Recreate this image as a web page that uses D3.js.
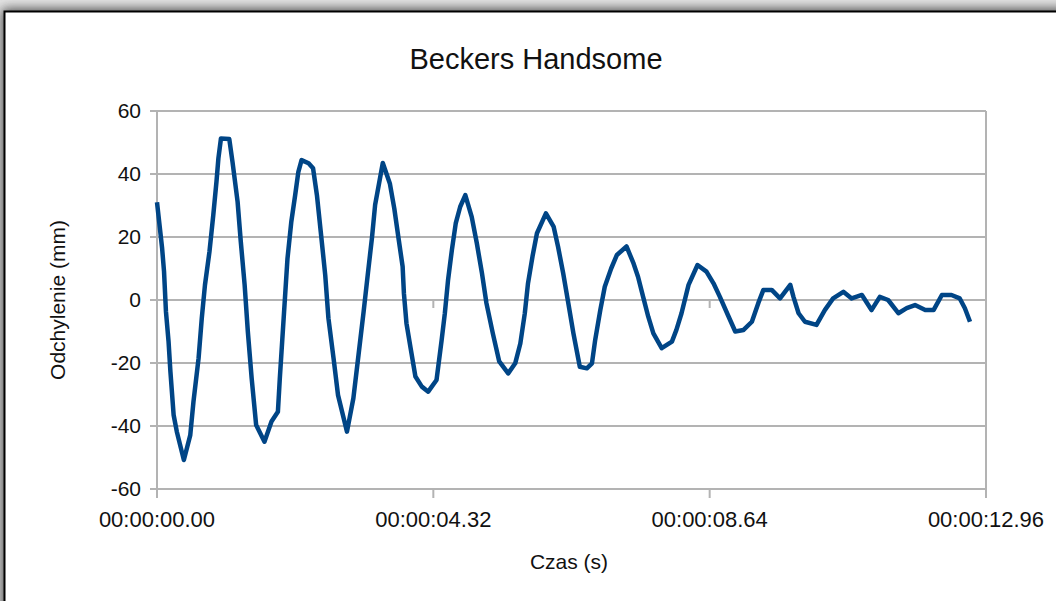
<!DOCTYPE html>
<html>
<head>
<meta charset="utf-8">
<script src="https://cdn.jsdelivr.net/npm/d3@7"></script>
<style>
  html, body { margin: 0; padding: 0; background: #e6e6e6; }
  svg { display: block; font-family: "Liberation Sans", Arial, sans-serif; }
</style>
</head>
<body>
<div id="chart"></div>
<script>
// czas w sekundach i odchylenie w mm
const times = [
  0.00, 0.08, 0.11, 0.14, 0.18, 0.21, 0.26, 0.31, 0.42, 0.52, 0.57, 0.65, 0.70, 0.75, 0.82, 0.88,
  0.93, 0.96, 1.00, 1.13, 1.18, 1.26, 1.31, 1.37, 1.42, 1.48, 1.55, 1.68, 1.79, 1.89, 1.92, 1.96,
  2.00, 2.04, 2.10, 2.16, 2.21, 2.26, 2.37, 2.44, 2.50, 2.56, 2.63, 2.68, 2.76, 2.83, 2.97, 3.07,
  3.15, 3.23, 3.30, 3.36, 3.41, 3.53, 3.64, 3.71, 3.78, 3.84, 3.86, 3.90, 3.97, 4.04, 4.14, 4.24,
  4.37, 4.45, 4.50, 4.55, 4.61, 4.67, 4.74, 4.82, 4.92, 5.00, 5.08, 5.15, 5.25, 5.35, 5.49, 5.60,
  5.68, 5.75, 5.80, 5.87, 5.94, 6.08, 6.20, 6.27, 6.35, 6.43, 6.51, 6.61, 6.72, 6.80, 6.85, 6.93,
  7.00, 7.10, 7.19, 7.34, 7.45, 7.52, 7.60, 7.68, 7.76, 7.89, 8.05, 8.12, 8.20, 8.31, 8.45, 8.59,
  8.70, 8.80, 8.93, 9.04, 9.17, 9.30, 9.40, 9.48, 9.61, 9.74, 9.90, 9.95, 10.03, 10.13, 10.31, 10.44,
  10.57, 10.73, 10.86, 11.02, 11.17, 11.30, 11.43, 11.59, 11.72, 11.85, 12.01, 12.14, 12.27, 12.42, 12.55, 12.63,
  12.71
];
const deflection = [
  31, 16.4, 9, -3.7, -13, -22.8, -36.5, -41.8, -50.8, -42.9, -32.3, -18.5, -5.8, 4.8, 15.3, 27,
  37.6, 45, 51.3, 51.1, 43.9, 31.2, 18.5, 4.8, -10, -24.9, -39.7, -45, -38.6, -35.5, -24.9, -12.2,
  0.5, 13.2, 24.9, 33.3, 40.7, 44.4, 43.4, 41.8, 33.3, 21.7, 7.9, -5.8, -18.5, -30.2, -41.8, -31.2,
  -17.5, -3.7, 9, 19.6, 30.2, 43.5, 37, 29, 19, 10.6, 2.1, -7.4, -15.9, -24.3, -27.5, -29.1,
  -25.4, -12.7, -4.2, 6.3, 15.9, 24.3, 29.6, 33.3, 26.4, 18, 8.5, -1, -10.6, -19.5, -23.3, -20.1,
  -13.8, -4.2, 5.3, 13.8, 21.2, 27.5, 23.3, 16.9, 8.5, -1, -10.6, -21.2, -21.7, -20.1, -12.7, -3.2,
  4.2, 10, 14.3, 17, 11.6, 7.4, 1, -5.3, -10.6, -15.3, -13.2, -9.5, -4.2, 4.8, 11.1, 9,
  5.3, 1, -5, -10, -9.5, -6.9, -1, 3.2, 3.2, 0.5, 4.8, 1, -4.2, -6.9, -7.9, -3.2,
  0.5, 2.6, 0.5, 1.6, -3.2, 1, 0, -4.2, -2.6, -1.6, -3.2, -3.2, 1.6, 1.6, 0.5, -2.6,
  -6.9
];
const xTicks = [0, 4.32, 8.64, 12.96];
const yTicks = [-60, -40, -20, 0, 20, 40, 60];

const data = times.map((t, i) => ({ t, v: deflection[i] }));

const W = 1056, H = 601;
const margin = { left: 157, right: 70, top: 111, bottom: 112 };

const svg = d3.select("#chart").append("svg")
  .attr("width", W)
  .attr("height", H);

// cień ramki
const defs = svg.append("defs");
defs.append("filter").attr("id", "shadow")
  .attr("x", "-10%").attr("y", "-10%").attr("width", "130%").attr("height", "130%")
  .append("feGaussianBlur").attr("stdDeviation", 6);

svg.append("rect").attr("width", W).attr("height", H).attr("fill", "#e4e4e4");
svg.append("rect")
  .attr("x", 2).attr("y", 9).attr("width", W + 20).attr("height", H + 20)
  .attr("fill", "#444").attr("filter", "url(#shadow)");
svg.append("rect")
  .attr("x", 4.5).attr("y", 11.5).attr("width", W + 20).attr("height", H + 20)
  .attr("fill", "#fff").attr("stroke", "#000").attr("stroke-width", 2);

const x = d3.scaleLinear().domain([0, 12.96]).range([margin.left, W - margin.right]);
const y = d3.scaleLinear().domain([-60, 60]).range([H - margin.bottom, margin.top]);

const fmtTime = s => {
  const mm = Math.floor(s / 60);
  const ss = s - mm * 60;
  return "00:" + String(mm).padStart(2, "0") + ":" + ss.toFixed(2).padStart(5, "0");
};

// siatka pozioma
svg.append("g").selectAll("line").data(yTicks).enter().append("line")
  .attr("x1", x(0) - 7).attr("x2", x(12.96))
  .attr("y1", d => y(d)).attr("y2", d => y(d))
  .attr("stroke", "#b3b3b3").attr("stroke-width", 2);

// osie pionowe (lewa i prawa krawędź)
svg.append("line")
  .attr("x1", x(0)).attr("x2", x(0)).attr("y1", y(60)).attr("y2", y(-60))
  .attr("stroke", "#b3b3b3").attr("stroke-width", 2);
svg.append("line")
  .attr("x1", x(12.96)).attr("x2", x(12.96)).attr("y1", y(60)).attr("y2", y(-60))
  .attr("stroke", "#b3b3b3").attr("stroke-width", 2);

// znaczniki osi X na dole i przy zerze
svg.append("g").selectAll("line").data(xTicks).enter().append("line")
  .attr("x1", d => x(d)).attr("x2", d => x(d))
  .attr("y1", y(-60)).attr("y2", y(-60) + 9)
  .attr("stroke", "#b3b3b3").attr("stroke-width", 2);
svg.append("g").selectAll("line").data(xTicks).enter().append("line")
  .attr("x1", d => x(d)).attr("x2", d => x(d))
  .attr("y1", y(0)).attr("y2", y(0) + 8)
  .attr("stroke", "#b3b3b3").attr("stroke-width", 2);

// etykiety osi Y
svg.append("g").selectAll("text").data(yTicks).enter().append("text")
  .attr("x", x(0) - 16).attr("y", d => y(d))
  .attr("dy", "0.35em")
  .attr("text-anchor", "end")
  .attr("font-size", 21)
  .attr("fill", "#111")
  .text(d => d);

// etykiety osi X
svg.append("g").selectAll("text").data(xTicks).enter().append("text")
  .attr("x", d => x(d)).attr("y", y(-60) + 38)
  .attr("text-anchor", "middle")
  .attr("font-size", 22)
  .attr("fill", "#111")
  .text(d => fmtTime(d));

// linia danych
const line = d3.line().x(d => x(d.t)).y(d => y(d.v));
svg.append("path").datum(data)
  .attr("d", line)
  .attr("fill", "none")
  .attr("stroke", "#004586")
  .attr("stroke-width", 4.5)
  .attr("stroke-linejoin", "round");

// tytuły
svg.append("text")
  .attr("x", 536).attr("y", 69)
  .attr("text-anchor", "middle")
  .attr("font-size", 29)
  .attr("fill", "#111")
  .text("Beckers Handsome");

svg.append("text")
  .attr("x", 569).attr("y", 569)
  .attr("text-anchor", "middle")
  .attr("font-size", 21)
  .attr("fill", "#111")
  .text("Czas (s)");

svg.append("text")
  .attr("transform", "translate(65,300) rotate(-90)")
  .attr("text-anchor", "middle")
  .attr("font-size", 21)
  .attr("fill", "#111")
  .text("Odchylenie (mm)");
</script>
</body>
</html>
